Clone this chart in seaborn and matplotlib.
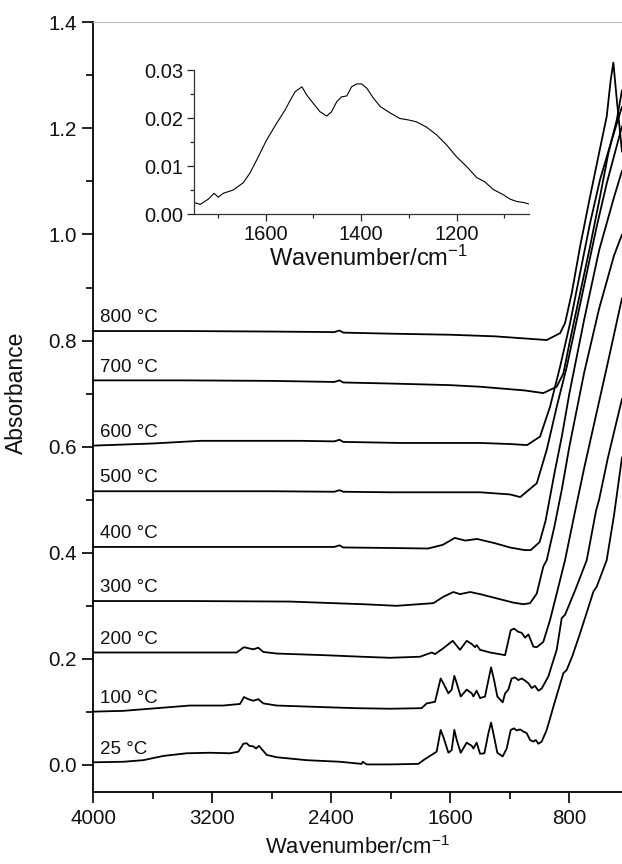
import numpy as np
import pandas as pd
import matplotlib
matplotlib.use("Agg")
import matplotlib.pyplot as plt
import seaborn as sns
from matplotlib.ticker import MultipleLocator

sns.set_theme(style="white")
plt.rcParams['font.family'] = ['Liberation Sans', 'DejaVu Sans']
plt.rcParams['mathtext.default'] = 'regular'

# ---------------- data ----------------
labels = ["25 °C", "100 °C", "200 °C", "300 °C", "400 °C",
          "500 °C", "600 °C", "700 °C", "800 °C"]

wn_25 = [4000, 3798, 3664, 3529, 3372, 3216, 3081, 3025, 2991, 2969, 2951, 2924, 2906, 2886,
         2868, 2835, 2767, 2566, 2342, 2196, 2189, 2162, 2005, 1815, 1781, 1737, 1692, 1665,
         1647, 1613, 1591, 1573, 1557, 1530, 1490, 1456, 1445, 1423, 1400, 1371, 1344, 1326,
         1311, 1284, 1248, 1232, 1221, 1194, 1172, 1154, 1131, 1109, 1087, 1064, 1042, 1026,
         1008, 986, 952, 907, 870, 840, 818, 780, 728, 680, 638, 616, 549, 500, 446]
abs_25 = [0.005, 0.006, 0.009, 0.017, 0.022, 0.023, 0.022, 0.025, 0.040, 0.041, 0.036, 0.035,
          0.031, 0.036, 0.030, 0.019, 0.0145, 0.009, 0.006, 0.002, 0.006, 0.001, 0.001, 0.002,
          0.009, 0.017, 0.025, 0.066, 0.053, 0.023, 0.028, 0.066, 0.047, 0.023, 0.042, 0.036,
          0.031, 0.042, 0.021, 0.022, 0.060, 0.080, 0.060, 0.023, 0.016, 0.025, 0.031, 0.066,
          0.069, 0.065, 0.067, 0.063, 0.060, 0.047, 0.044, 0.047, 0.040, 0.044, 0.066, 0.110,
          0.145, 0.173, 0.179, 0.205, 0.248, 0.290, 0.327, 0.336, 0.386, 0.470, 0.580]

wn_100 = [4000, 3798, 3574, 3350, 3126, 3014, 2987, 2958, 2924, 2891, 2857, 2767, 2454, 2230,
          2005, 1793, 1759, 1703, 1665, 1647, 1613, 1591, 1573, 1557, 1530, 1490, 1456, 1445,
          1423, 1400, 1367, 1344, 1326, 1306, 1284, 1248, 1232, 1210, 1188, 1165, 1143, 1120,
          1098, 1075, 1053, 1031, 1008, 986, 941, 885, 851, 829, 760, 683, 620, 600, 540, 446]
abs_100 = [0.1005, 0.102, 0.107, 0.112, 0.112, 0.115, 0.128, 0.124, 0.121, 0.124, 0.116, 0.112,
           0.109, 0.107, 0.106, 0.107, 0.116, 0.119, 0.163, 0.154, 0.135, 0.142, 0.168, 0.154,
           0.129, 0.142, 0.135, 0.129, 0.140, 0.126, 0.129, 0.160, 0.184, 0.160, 0.129, 0.118,
           0.135, 0.142, 0.163, 0.165, 0.160, 0.163, 0.159, 0.154, 0.145, 0.149, 0.140, 0.144,
           0.167, 0.217, 0.277, 0.283, 0.330, 0.386, 0.480, 0.500, 0.580, 0.690]

wn_200 = [4000, 3036, 2987, 2958, 2924, 2891, 2857, 2767, 2454, 2196, 2005, 1804, 1725, 1703,
          1647, 1584, 1535, 1490, 1456, 1434, 1423, 1400, 1333, 1232, 1194, 1172, 1143, 1120,
          1098, 1075, 1042, 1019, 975, 930, 885, 829, 760, 700, 620, 540, 446]
abs_200 = [0.212, 0.212, 0.222, 0.220, 0.218, 0.221, 0.213, 0.210, 0.207, 0.204, 0.202, 0.204,
           0.212, 0.209, 0.220, 0.234, 0.217, 0.234, 0.228, 0.222, 0.226, 0.217, 0.212, 0.207,
           0.254, 0.257, 0.251, 0.249, 0.240, 0.246, 0.223, 0.222, 0.232, 0.273, 0.323, 0.386,
           0.480, 0.560, 0.660, 0.760, 0.880]

wn_300 = [4000, 3350, 2678, 2386, 2185, 1961, 1714, 1647, 1580, 1535, 1467, 1400, 1288, 1176,
          1109, 1064, 1019, 975, 952, 900, 850, 800, 750, 700, 650, 600, 550, 500, 446]
abs_300 = [0.309, 0.309, 0.308, 0.305, 0.303, 0.300, 0.305, 0.317, 0.326, 0.322, 0.326, 0.322,
           0.314, 0.306, 0.303, 0.305, 0.323, 0.374, 0.386, 0.450, 0.520, 0.600, 0.670, 0.740,
           0.800, 0.860, 0.910, 0.960, 1.000]

wn_400 = [4000, 3400, 2800, 2380, 2345, 2320, 2000, 1750, 1650, 1570, 1500, 1420, 1300, 1200,
          1100, 1060, 1000, 960, 900, 850, 800, 700, 600, 500, 446]
abs_400 = [0.411, 0.411, 0.411, 0.411, 0.414, 0.410, 0.409, 0.408, 0.415, 0.428, 0.423, 0.426,
           0.418, 0.410, 0.405, 0.405, 0.420, 0.460, 0.550, 0.620, 0.700, 0.840, 0.970, 1.070,
           1.120]

wn_500 = [4000, 3400, 2800, 2380, 2345, 2320, 2000, 1600, 1400, 1200, 1130, 1019, 952, 885,
          817, 750, 683, 616, 549, 446]
abs_500 = [0.516, 0.516, 0.516, 0.515, 0.518, 0.515, 0.514, 0.514, 0.514, 0.510, 0.505, 0.531,
           0.594, 0.675, 0.751, 0.839, 0.927, 1.015, 1.096, 1.204]

wn_600 = [4000, 3600, 3281, 2610, 2380, 2345, 2320, 1938, 1400, 1200, 1084, 997, 930, 862, 795,
          728, 661, 594, 515, 446]
abs_600 = [0.602, 0.606, 0.611, 0.611, 0.610, 0.613, 0.609, 0.607, 0.607, 0.605, 0.603, 0.619,
           0.675, 0.751, 0.833, 0.927, 1.021, 1.103, 1.178, 1.241]

wn_700 = [4000, 3400, 2800, 2380, 2345, 2320, 2000, 1600, 1400, 1100, 975, 885, 840, 795, 728,
          661, 594, 538, 481, 446]
abs_700 = [0.725, 0.725, 0.724, 0.722, 0.725, 0.721, 0.719, 0.716, 0.713, 0.706, 0.701, 0.713,
           0.738, 0.801, 0.889, 0.977, 1.071, 1.153, 1.216, 1.272]

wn_800 = [4000, 3400, 2800, 2380, 2345, 2320, 2000, 1600, 1300, 1100, 952, 862, 829, 784, 728,
          661, 605, 549, 522, 504, 481, 446]
abs_800 = [0.818, 0.818, 0.817, 0.816, 0.819, 0.815, 0.813, 0.811, 0.808, 0.804, 0.801, 0.814,
           0.833, 0.889, 0.977, 1.071, 1.147, 1.222, 1.291, 1.324, 1.254, 1.156]

# inset spectrum (difference spectrum)
inset_wn = [1750, 1737, 1720, 1708, 1699, 1689, 1668, 1647, 1633, 1619, 1598, 1577, 1559, 1549,
            1538, 1524, 1514, 1503, 1486, 1472, 1462, 1451, 1441, 1430, 1420, 1409, 1399, 1388,
            1374, 1360, 1340, 1319, 1301, 1284, 1263, 1242, 1221, 1200, 1179, 1158, 1141, 1123,
            1102, 1088, 1074, 1060, 1049]
inset_abs = [0.0024, 0.0020, 0.0031, 0.0043, 0.0035, 0.0043, 0.0050, 0.0065, 0.0085, 0.0112,
             0.0154, 0.0189, 0.0217, 0.0236, 0.0255, 0.0265, 0.0248, 0.0234, 0.0213, 0.0204,
             0.0213, 0.0234, 0.0244, 0.0246, 0.0265, 0.0271, 0.0271, 0.0262, 0.0241, 0.0224,
             0.0211, 0.0199, 0.0196, 0.0192, 0.0181, 0.0165, 0.0144, 0.0119, 0.0099, 0.0076,
             0.0067, 0.0051, 0.0040, 0.0031, 0.0026, 0.0024, 0.0021]

series = [(wn_25, abs_25), (wn_100, abs_100), (wn_200, abs_200), (wn_300, abs_300),
          (wn_400, abs_400), (wn_500, abs_500), (wn_600, abs_600), (wn_700, abs_700),
          (wn_800, abs_800)]

# ---------------- figure ----------------
W, H = 622, 864
fig = plt.figure(figsize=(W / 100, H / 100), dpi=100)
ax = fig.add_axes([93.3 / W, 1 - 792 / H, 1 - 93.3 / W, (792 - 22.3) / H])

for (wn, ab), lab in zip(series, labels):
    df = pd.DataFrame({"wn": wn, "A": ab})
    sns.lineplot(data=df, x="wn", y="A", ax=ax, color="black", lw=1.3,
                 sort=False, estimator=None)
    ax.text(3955, ab[0] + 0.009, lab, fontsize=13.5, ha="left", va="bottom", color="#111111")

ax.set_xlim(4000, 446)
ax.set_ylim(-0.051, 1.4)
ax.xaxis.set_major_locator(MultipleLocator(800))
ax.xaxis.set_minor_locator(MultipleLocator(400))
ax.yaxis.set_major_locator(MultipleLocator(0.2))
ax.yaxis.set_minor_locator(MultipleLocator(0.1))
ax.yaxis.set_major_formatter(matplotlib.ticker.FormatStrFormatter("%.1f"))
ax.tick_params(which="major", direction="out", length=8, width=1.2, labelsize=14.8,
               color="black", labelcolor="#111111", bottom=True, left=True, pad=4)
ax.tick_params(which="minor", direction="out", length=5, width=1.2, color="black",
               bottom=True, left=True)
ax.tick_params(axis="x", which="both", top=False)
ax.tick_params(axis="y", which="both", right=False)
for s in ["left", "bottom"]:
    ax.spines[s].set_color("black")
    ax.spines[s].set_linewidth(1.3)
ax.spines["right"].set_visible(False)
ax.spines["top"].set_color("#bbbbbb")
ax.spines["top"].set_linewidth(0.8)
ax.set_xlabel("Wavenumber/cm$^{\\mathregular{-1}}$", fontsize=15.8, color="#111111", labelpad=6)
ax.set_ylabel("Absorbance", fontsize=16.5, color="#111111")
ax.yaxis.set_label_coords(-0.123, 0.518)
ax.grid(False)

# inset
ins = fig.add_axes([194 / W, 1 - 214 / H, (528.7 - 194) / W, (214 - 70) / H])
sns.lineplot(x=inset_wn, y=inset_abs, ax=ins, color="black", lw=0.8, sort=False, estimator=None)
ins.set_xlim(1750, 1049)
ins.set_ylim(0, 0.03)
ins.xaxis.set_major_locator(MultipleLocator(200))
ins.xaxis.set_minor_locator(MultipleLocator(100))
ins.yaxis.set_major_locator(MultipleLocator(0.01))
ins.yaxis.set_minor_locator(MultipleLocator(0.005))
ins.yaxis.set_major_formatter(matplotlib.ticker.FormatStrFormatter("%.2f"))
ins.tick_params(which="major", direction="out", length=5, width=0.9, labelsize=14.5,
                labelcolor="#111111", bottom=True, left=True, pad=3)
ins.tick_params(which="minor", direction="out", length=3, width=0.9, bottom=True, left=True)
ins.spines["top"].set_visible(False)
ins.spines["right"].set_visible(False)
for s in ["left", "bottom"]:
    ins.spines[s].set_color("#333333")
    ins.spines[s].set_linewidth(0.9)
ins.set_facecolor("none")
ins.set_xlabel("Wavenumber/cm$^{\\mathregular{-1}}$", fontsize=17, color="#111111", labelpad=4)
ins.xaxis.set_label_coords(0.52, -0.22)
ins.set_ylabel("")
ins.grid(False)

fig.savefig("out.png", dpi=100)
